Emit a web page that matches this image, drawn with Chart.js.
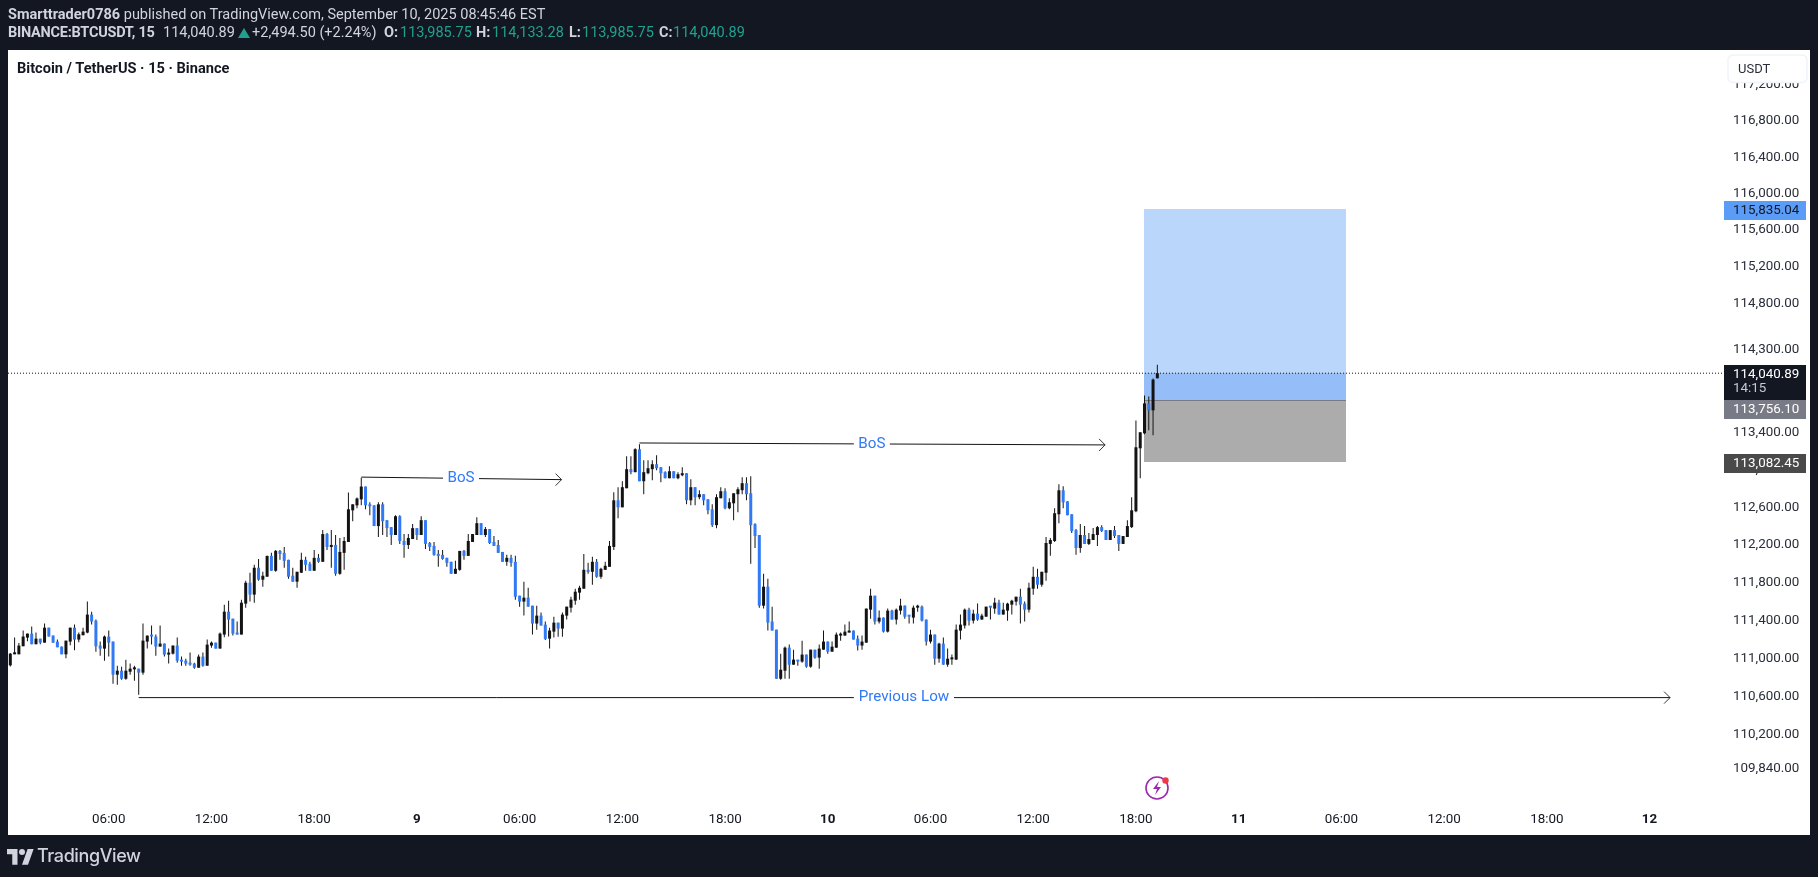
<!DOCTYPE html>
<html><head><meta charset="utf-8">
<script src="https://cdn.jsdelivr.net/npm/chart.js@4/dist/chart.umd.min.js"></script>
<style>
html,body{margin:0;padding:0;background:#131722;width:1818px;height:877px;overflow:hidden}
#c{position:absolute;left:0;top:0}
.t{position:absolute;white-space:nowrap;font-family:Roboto,sans-serif;font-size:14.5px;line-height:16px;color:#d1d4dc}
.b{font-weight:700}.g{color:#22a08f}
svg{position:absolute}
</style></head><body>
<canvas id="c" width="1818" height="877"></canvas>
<div class="t" style="left:8px;top:7px"><span class="b">Smarttrader0786</span> published on TradingView.com, September 10, 2025 08:45:46 EST</div>
<div class="t b" style="left:8px;top:25px;letter-spacing:-.25px">BINANCE:BTCUSDT, 15</div>
<div class="t" style="left:163px;top:25px">114,040.89</div>
<svg style="left:238px;top:27px" width="12" height="12"><polygon points="6,1 12,11 0,11" fill="#22a08f"/></svg>
<div class="t" style="left:252px;top:25px">+2,494.50 (+2.24%)</div>
<div class="t b" style="left:384px;top:25px">O:</div><div class="t g" style="left:400px;top:25px">113,985.75</div>
<div class="t b" style="left:476px;top:25px">H:</div><div class="t g" style="left:492px;top:25px">114,133.28</div>
<div class="t b" style="left:569px;top:25px">L:</div><div class="t g" style="left:582px;top:25px">113,985.75</div>
<div class="t b" style="left:659px;top:25px">C:</div><div class="t g" style="left:673px;top:25px">114,040.89</div>
<div class="t b" style="left:17px;top:60px;color:#131722;font-size:14.6px">Bitcoin / TetherUS · 15 · Binance</div>
<svg style="left:7px;top:848px" width="27" height="17" viewBox="0 0 36 22"><path fill="#d1d4dc" d="M14 22H7V8H0V1h14v21zM28 22h-8l7.5-21h8L28 22z"/><circle cx="20" cy="5" r="4" fill="#d1d4dc"/></svg>
<div class="t" style="left:37px;top:845px;font-size:18px;line-height:22px;font-weight:500;font-family:Inter,Roboto,sans-serif;letter-spacing:-.4px">TradingView</div>
<svg style="left:1143px;top:774px" width="30" height="28" viewBox="0 0 30 28"><circle cx="14" cy="14" r="11" fill="none" stroke="#9c27b0" stroke-width="1.6"/><path d="M16 7l-6 8h4l-2 6 6-8h-4z" fill="#9c27b0"/><circle cx="22.5" cy="6.5" r="3.2" fill="#f23645"/></svg>
<script>
const opens=[
110926,111042,111042,111127,111218,111260,111148,111207,111165,111323,
111239,111176,111123,111042,111176,111323,111197,111243,111271,111461,
111397,111134,111102,111229,111176,110828,110870,110785,110859,110884,
110891,110849,111176,111239,111229,111123,111155,111039,111049,111134,
110986,110975,110954,110944,110901,111018,110922,111134,111165,111102,
111250,111492,111418,111271,111250,111577,111798,111672,111957,111830,
111862,112083,111925,112136,112115,112041,111872,111809,111904,112041,
111999,111925,112062,112020,112315,112178,112199,111893,112115,112231,
112568,112621,112685,112822,112632,112621,112400,112632,112463,112389,
112305,112505,112241,112199,112262,112378,112305,112463,112220,112189,
112104,112094,112062,112020,111893,111935,112136,112083,112231,112305,
112431,112305,112368,112231,112199,112125,112020,112062,112020,111661,
111598,111640,111555,111366,111450,111355,111207,111281,111376,111313,
111450,111534,111608,111693,111735,111935,111914,112020,111861,111935,
111967,112178,112675,112600,112804,113008,112976,113222,112879,112965,
113008,113061,113029,112976,112911,112986,112911,112943,112965,112675,
112815,112708,112740,112686,112579,112410,112697,112772,112590,112643,
112740,112783,112858,112750,112421,112305,111555,111756,111387,111302,
110785,110870,111112,110933,110986,110965,111039,110912,111091,111007,
111091,111176,111070,111112,111239,111239,111271,111292,111207,111134,
111165,111513,111661,111387,111429,111281,111503,111408,111503,111556,
111450,111429,111534,111545,111408,111176,111250,110996,111155,110933,
110989,110986,111292,111345,111513,111397,111471,111408,111439,111545,
111524,111587,111461,111503,111566,111598,111650,111577,111513,111735,
111861,111777,111904,112210,112241,112526,112782,112664,112526,112357,
112167,112305,112210,112252,112305,112389,112357,112252,112357,112305,
112210,112284,112389,112558,113232,113393,113715,113640,113985.75];
const highs=[
111056,111218,111162,111292,111260,111334,111271,111207,111366,111323,
111239,111197,111123,111186,111323,111355,111271,111323,111598,111492,
111408,111176,111239,111292,111176,110922,110912,110986,110944,110922,
110891,111366,111239,111345,111250,111345,111155,111102,111134,111218,
111018,110996,111060,110954,111039,111060,111197,111176,111165,111271,
111566,111608,111418,111387,111619,111819,111904,111988,112051,111914,
112083,112115,112146,112146,112178,112041,111957,111914,112115,112073,
112020,112146,112104,112357,112326,112357,112305,112273,112284,112758,
112632,112706,112917,112822,112653,112621,112653,112653,112463,112389,
112516,112516,112315,112315,112421,112378,112505,112463,112231,112231,
112146,112146,112062,112020,112030,112136,112146,112315,112315,112495,
112431,112389,112368,112294,112252,112125,112094,112094,112083,111661,
111809,111745,111555,111555,111482,111387,111323,111439,111376,111482,
111545,111650,111735,111767,112104,112009,112073,112051,111956,112020,
112241,112761,112815,112879,113147,113147,113233,113276,113104,113104,
113104,113158,113029,112986,113040,112986,112976,113029,112965,112901,
112815,112783,112740,112686,112633,112740,112815,112804,112697,112750,
112815,112922,112922,112933,112431,112305,111893,111840,111545,111302,
111049,111123,111144,111091,110986,111186,111039,111091,111091,111144,
111292,111176,111176,111271,111271,111355,111387,111292,111239,111239,
111524,111735,111661,111503,111429,111524,111513,111524,111629,111556,
111450,111556,111566,111556,111408,111302,111250,111165,111218,111102,
111039,111355,111461,111524,111534,111513,111577,111471,111545,111545,
111640,111619,111587,111587,111619,111650,111735,111598,111798,111967,
111946,111914,112284,112273,112590,112846,112825,112664,112526,112368,
112421,112400,112326,112379,112400,112410,112357,112357,112400,112305,
112294,112463,112707,113532,113404,113800,113790,113983,114133.28];
const lows=[
110915,111042,111042,111127,111179,111148,111148,111148,111165,111229,
111165,111116,111042,111000,111137,111084,111169,111243,111264,111355,
111070,111028,110975,111018,110733,110722,110775,110775,110828,110764,
110617,110828,111102,111144,111028,111123,111018,110944,111039,110954,
110922,110922,110922,110891,110901,110912,110922,111112,111102,111102,
111221,111229,111239,111250,111250,111534,111598,111587,111819,111756,
111862,111925,111914,112041,111957,111840,111809,111746,111904,111925,
111925,111925,112009,112020,112146,111957,111872,111883,111935,112231,
112452,112590,112621,112579,112516,112400,112284,112305,112284,112199,
112305,112210,112062,112157,112262,112252,112305,112157,112136,112083,
111967,112041,111967,111893,111893,111925,112041,112083,112231,112305,
112305,112284,112210,112189,112115,112020,111978,111967,111619,111545,
111450,111545,111250,111302,111345,111193,111102,111218,111228,111228,
111408,111482,111566,111619,111735,111893,111777,111851,111840,111935,
111967,112146,112484,112600,112804,112954,112976,112879,112740,112954,
112890,112997,112868,112911,112911,112911,112901,112933,112633,112622,
112622,112686,112622,112526,112389,112378,112697,112579,112579,112463,
112547,112740,112675,111999,112167,111534,111524,111292,111292,110785,
110775,110785,110785,110933,110922,110954,110901,110901,110996,110891,
111091,111049,111070,111112,111186,111239,111271,111197,111081,111091,
111165,111418,111355,111366,111271,111271,111408,111355,111461,111418,
111366,111366,111492,111387,111134,111155,110933,110954,110933,110912,
110933,110986,111197,111313,111345,111366,111397,111408,111439,111408,
111471,111461,111461,111397,111461,111556,111366,111387,111482,111672,
111735,111756,111819,112083,112231,112431,112590,112516,112326,112094,
112115,112210,112199,112252,112189,112336,112252,112252,112273,112136,
112210,112284,112379,112547,112911,113382,113425,113372,113985.75];
const closes=[
111049,111049,111134,111229,111260,111148,111207,111165,111323,111229,
111165,111116,111042,111186,111323,111197,111253,111281,111461,111387,
111127,111102,111229,111165,110828,110870,110785,110870,110891,110891,
110849,111186,111239,111229,111123,111155,111039,111060,111134,110975,
110965,110944,110933,110901,111018,110922,111144,111165,111102,111260,
111492,111408,111260,111250,111587,111798,111672,111957,111830,111872,
112083,111925,112136,112104,112030,111862,111809,111914,112041,111988,
111925,112062,112020,112315,112178,112199,111893,112125,112241,112579,
112632,112695,112822,112621,112611,112400,112632,112452,112379,112305,
112505,112241,112199,112273,112378,112305,112463,112210,112178,112094,
112083,112051,112009,111893,111946,112136,112083,112241,112315,112431,
112305,112368,112220,112189,112115,112020,112062,112009,111650,111598,
111640,111545,111366,111450,111345,111204,111292,111376,111313,111461,
111545,111619,111703,111745,111935,111914,112020,111861,111946,111978,
112189,112675,112600,112815,113008,112976,113222,112879,112976,113018,
113061,113018,112965,112911,112986,112911,112954,112965,112675,112815,
112708,112740,112675,112568,112410,112708,112772,112590,112654,112750,
112793,112858,112740,112410,112294,111555,111756,111376,111292,110785,
110880,111112,110933,110986,110965,111039,110912,111091,111007,111102,
111176,111070,111123,111250,111250,111281,111292,111197,111134,111176,
111524,111661,111387,111429,111281,111503,111408,111513,111556,111439,
111439,111534,111545,111397,111176,111250,110996,111155,110933,110996,
110996,111302,111355,111513,111397,111471,111408,111450,111545,111534,
111587,111461,111513,111577,111608,111650,111566,111513,111745,111861,
111777,111914,112220,112252,112537,112782,112653,112516,112347,112167,
112305,112210,112262,112315,112389,112347,112252,112357,112294,112210,
112294,112400,112568,113243,113404,113715,113640,113972,114040.89];

const xTickValues=[23,47,71,95,119,143,167,191,215,239,263,287,311,335,359,383];
const xTickLabels=['06:00','12:00','18:00','9','06:00','12:00','18:00','10','06:00','12:00','18:00','11','06:00','12:00','18:00','12'];
const yTickValues=[117200,116800,116400,116000,115600,115200,114800,114300,113400,113000,112600,112200,111800,111400,111000,110600,110200,109840];

const targetPrice=115835.04, entryPrice=113756.10, stopPrice=113082.45, lastPrice=114040.89;
const positionBars=[264.9,312.1];
const bos1Start=[82,112923], bos1Gap=[101.1,109.5], bos1End=[128.8,112896], bos1Label=[105.3,112910];
const bos2Start=[147,113289], bos2Gap=[197.1,205.5], bos2End=[255.8,113268], bos2Label=[201.3,113275];
const lowStart=[30,110587], lowGap=[197.1,220.5], lowEnd=[387.8,110587], lowLabel=[208.8,110590];

const X_MIN=-0.54,X_MAX=400.4,Y_MIN=109467,Y_MAX=117589;
const BLUE='#3179f5',BLACK='#131313';
const idx=opens.map((_,i)=>i);
const lerpY=(a,b,x)=>a[1]+(b[1]-a[1])*(x-a[0])/(b[0]-a[0]);
function seg(s,gap,e){
  return [{x:s[0],y:s[1]},{x:gap[0],y:lerpY(s,e,gap[0])},{x:gap[0]+.1,y:null},{x:gap[1],y:lerpY(s,e,gap[1])},{x:e[0],y:e[1]}];
}
const lineStyle={type:'line',borderColor:BLACK,borderWidth:1,pointRadius:0,spanGaps:false,order:0,tension:0};

const overlay={id:'overlay',
 beforeDraw(ch){const c=ch.ctx;c.save();c.fillStyle='#fff';c.fillRect(8,50,1802,785);c.restore();},
 beforeDatasetsDraw(ch){
  const c=ch.ctx,x=ch.scales.x,y=ch.scales.y;
  const l=Math.round(x.getPixelForValue(positionBars[0])),r=Math.round(x.getPixelForValue(positionBars[1]));
  const t=Math.round(y.getPixelForValue(targetPrice)),m=Math.round(y.getPixelForValue(entryPrice)),
        s=Math.round(y.getPixelForValue(stopPrice)),cu=Math.round(y.getPixelForValue(lastPrice));
  c.save();
  c.fillStyle='#bbd6fb';c.fillRect(l,t,r-l,cu-t);
  c.fillStyle='#95bdf8';c.fillRect(l,cu,r-l,m-cu);
  c.fillStyle='#acacac';c.fillRect(l,m,r-l,s-m);
  c.fillStyle='#787b86';c.fillRect(l,m,r-l,1);
  c.restore();
 },
 afterDraw(ch){
  const c=ch.ctx,x=ch.scales.x,y=ch.scales.y;
  c.save();
  c.font='15.2px Roboto';c.fillStyle='#3179f5';c.textAlign='center';c.textBaseline='middle';
  [[bos1Label,'BoS'],[bos2Label,'BoS'],[lowLabel,'Previous Low']].forEach(([p,s])=>c.fillText(s,x.getPixelForValue(p[0]),y.getPixelForValue(p[1])));
  c.strokeStyle='#333';c.lineWidth=1;
  [bos1End,bos2End,lowEnd].forEach(p=>{const px=x.getPixelForValue(p[0]),py=y.getPixelForValue(p[1]);
    c.beginPath();c.moveTo(px-6,py-6);c.lineTo(px,py);c.lineTo(px-6,py+6);c.stroke();});
  const tags=[[targetPrice,201,19,'#5b9cf6','#131722','115,835.04'],[lastPrice,365,35,'#131722','#fff','114,040.89'],
              [entryPrice,400,19,'#787b86','#fff','113,756.10'],[stopPrice,454,19,'#4a4a4a','#fff','113,082.45']];
  c.font='13.4px Roboto';c.textAlign='left';c.textBaseline='middle';
  tags.forEach(([v,ty,h,bg,fg,s])=>{c.fillStyle=bg;c.fillRect(1724,ty,82,h);c.fillStyle=fg;c.fillText(s,1733,ty+9.5);});
  c.fillStyle='#c8cad2';c.fillText('14:15',1733,389);
  c.fillStyle='#fff';c.strokeStyle='#f0f3fa';c.lineWidth=1.5;
  c.beginPath();c.roundRect(1728,55,79,27.5,5);c.fill();c.stroke();
  c.fillStyle='#2a2e39';c.font='13px Roboto';c.fillText('USDT',1738,70);
  c.restore();
 }
};

new Chart(document.getElementById('c'),{
 data:{datasets:[
  {type:'bar',label:'wicks',data:idx.map(i=>({x:i,y:[lows[i],highs[i]]})),backgroundColor:BLACK,barThickness:1,grouped:false,inflateAmount:0,borderWidth:0,order:3,minBarLength:1},
  {type:'bar',label:'bodies',data:idx.map(i=>({x:i,y:[opens[i],closes[i]]})),backgroundColor:idx.map(i=>closes[i]<opens[i]?BLUE:BLACK),barThickness:3,grouped:false,inflateAmount:0,borderWidth:0,order:2,minBarLength:2},
  {...lineStyle,label:'BoS 1',data:seg(bos1Start,bos1Gap,bos1End)},
  {...lineStyle,label:'BoS 2',data:seg(bos2Start,bos2Gap,bos2End)},
  {...lineStyle,label:'Previous Low',data:seg(lowStart,lowGap,lowEnd)},
  {...lineStyle,label:'Last',borderDash:[1,2],borderColor:'#131722',data:[{x:X_MIN,y:lastPrice},{x:X_MAX,y:lastPrice}],order:1}
 ]},
 options:{
  responsive:false,animation:false,events:[],devicePixelRatio:1,
  layout:{padding:{left:8,top:50,right:0,bottom:0}},
  plugins:{legend:{display:false},tooltip:{enabled:false},title:{display:false}},
  scales:{
   x:{type:'linear',offset:false,min:X_MIN,max:X_MAX,bounds:'data',grid:{display:false,drawTicks:false},border:{display:false},
      afterFit(s){s.height=72;s.paddingLeft=0;s.paddingRight=0;},
      afterBuildTicks(s){s.ticks=xTickValues.map(v=>({value:v}));},
      ticks:{autoSkip:false,maxRotation:0,includeBounds:false,padding:7,color:'#131722',
        callback:v=>xTickLabels[xTickValues.indexOf(v)],
        font:ctx=>({family:'Roboto',size:13.4,weight:/^\d+$/.test(String(ctx.tick&&ctx.tick.label))?'700':'400'})}},
   y:{type:'logarithmic',position:'right',min:Y_MIN,max:Y_MAX,bounds:'data',grid:{display:false,drawTicks:false},border:{display:false},
      afterFit(s){s.width=94;s.paddingTop=0;s.paddingBottom=0;},
      afterBuildTicks(s){s.ticks=yTickValues.map(v=>({value:v}));},
      ticks:{autoSkip:false,padding:9,color:'#2a2e39',font:{family:'Roboto',size:13.4},
        callback:v=>v.toLocaleString('en-US',{minimumFractionDigits:2,maximumFractionDigits:2})}}
  }
 },
 plugins:[overlay]
});
</script>
</body></html>
